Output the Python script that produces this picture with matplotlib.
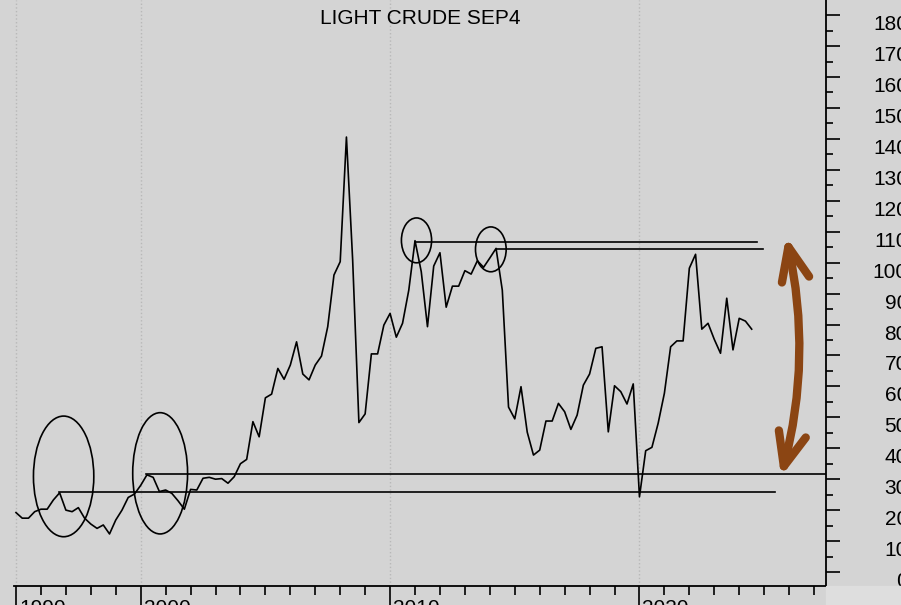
import matplotlib
matplotlib.use("Agg")
import matplotlib.pyplot as plt
import numpy as np
import pandas as pd
from matplotlib.patches import Ellipse, FancyArrowPatch, Rectangle
from matplotlib.transforms import blended_transform_factory, ScaledTranslation

plt.rcParams['font.family'] = ['Liberation Sans', 'DejaVu Sans']

# ---------------- data ----------------
title = "LIGHT CRUDE SEP4"
quarters = pd.period_range("1995Q1", "2024Q3", freq="Q")
prices = [
    19.2, 17.4, 17.4, 19.5,   # 1995
    20.3, 20.3, 23.3, 25.6,   # 1996
    20.0, 19.5, 20.8, 17.4,   # 1997
    15.5, 14.1, 15.2, 12.3,   # 1998
    16.8, 20.0, 24.1, 25.2,   # 1999
    28.0, 31.4, 30.6, 26.0,   # 2000
    26.5, 25.4, 23.0, 20.3,   # 2001
    26.7, 26.5, 30.3, 30.6,   # 2002
    30.0, 30.2, 28.7, 30.8,   # 2003
    35.0, 36.4, 48.6, 43.7,   # 2004
    56.3, 57.5, 65.8, 62.3,   # 2005
    66.9, 74.4, 64.0, 62.1,   # 2006
    66.9, 69.8, 79.3, 96.0,   # 2007
    100.3, 140.6, 100.8, 48.3,  # 2008
    51.1, 70.5, 70.5, 79.8,   # 2009
    83.6, 75.9, 80.4, 91.1,   # 2010
    107.1, 97.1, 79.3, 98.9,  # 2011
    103.2, 85.6, 92.4, 92.4,  # 2012
    97.4, 96.3, 100.6, 98.5,  # 2013
    101.5, 104.6, 91.1, 53.3,  # 2014
    49.5, 59.9, 45.2, 37.8,   # 2015
    39.4, 48.8, 48.8, 54.5,   # 2016
    51.8, 46.1, 50.7, 60.4,   # 2017
    64.0, 72.3, 72.8, 45.3,   # 2018
    60.2, 58.3, 54.3, 60.8,   # 2019
    24.3, 39.2, 40.3, 48.1,   # 2020
    57.8, 72.8, 74.7, 74.7,   # 2021
    98.2, 102.7, 78.5, 80.4,  # 2022
    75.2, 70.7, 88.5, 71.8,   # 2023
    82.0, 81.1, 78.5,         # 2024
]
dates = np.array([q.year + (q.quarter - 1) / 4 for q in quarters])

# horizontal support / resistance lines
level_values = [106.8, 104.4, 31.6, 25.9]
level_starts = [2010.98, 2014.27, 2000.21, 1996.74]
level_ends = [2024.72, 2024.95, 2027.5, 2025.44]

# ellipses (centre year, centre value, width in years, height in value)
ell_x = [1996.91, 2000.78, 2011.06, 2014.04]
ell_y = [30.9, 31.9, 107.2, 104.3]
ell_w = [2.42, 2.20, 1.21, 1.23]
ell_h = [39.0, 39.2, 14.5, 14.5]

y_ticks = list(range(0, 190, 10))
y_labels = [str(v) for v in y_ticks]
x_major = [1995, 2000, 2010, 2020]
x_labels = ["1990", "2000", "2010", "2020"]

# ---------------- figure ----------------
W, H = 901, 605
bg = '#d4d4d4'
FS = 15
fig = plt.figure(figsize=(W / 100, H / 100), dpi=100, facecolor=bg)
left, right, bottom, top = 14, 826, 585.7, 0
ax = fig.add_axes([left / W, (H - bottom) / H, (right - left) / W, (bottom - top) / H])
ax.set_facecolor(bg)
fig.patches.append(Rectangle((right / W, 0), 1 - right / W, (H - bottom) / H,
                             transform=fig.transFigure, color='#dedede', zorder=0))

ax.set_xlim(1994.92, 2027.48)
ax.set_ylim(-4.43, 184.9)

ax.plot(dates, prices, color='black', lw=1.2, zorder=3)

for v, s, e in zip(level_values, level_starts, level_ends):
    ax.plot([s, e], [v, v], color='black', lw=1.2, zorder=3, clip_on=True)

for cx, cy, w, h in zip(ell_x, ell_y, ell_w, ell_h):
    ax.add_patch(Ellipse((cx, cy), w, h, fill=False, edgecolor='black', lw=1.2, zorder=3))

arrow = FancyArrowPatch(posA=(2025.88, 108.5), posB=(2025.68, 30.8),
                        arrowstyle='<->,head_length=1.2,head_width=0.5',
                        connectionstyle='arc3,rad=-0.12', mutation_scale=20,
                        color='#8B4513', lw=6, shrinkA=0, shrinkB=0,
                        capstyle='round', joinstyle='round', zorder=4)
ax.add_patch(arrow)

# spines
for s in ['top', 'left']:
    ax.spines[s].set_visible(False)
for s in ['bottom', 'right']:
    ax.spines[s].set_linewidth(1.3)
    ax.spines[s].set_color('black')

# y axis on the right
ax.yaxis.tick_right()
ax.set_yticks(y_ticks)
ax.set_yticklabels(y_labels, fontsize=FS)
ax.set_yticks(np.arange(5, 185, 10), minor=True)
ax.tick_params(axis='y', which='major', length=10, width=1.2, pad=49, direction='out')
ax.tick_params(axis='y', which='minor', length=5, width=1.2, direction='out')
for lab in ax.get_yticklabels():
    lab.set_horizontalalignment('right')
    lab.set_verticalalignment('top')

# x axis
ax.set_xticks(x_major)
ax.set_xticklabels([])
minor_years = [y for y in range(1996, 2028) if y not in x_major]
ax.set_xticks(minor_years, minor=True)
ax.tick_params(axis='x', which='major', length=16, width=1.2, direction='out')
ax.tick_params(axis='x', which='minor', length=6.5, width=1.2, direction='out')
ax.grid(axis='x', which='major', color='#b8b8b8', linestyle=':', lw=1)

trans = blended_transform_factory(ax.transData, ax.transAxes)
for xv, lab in zip(x_major, x_labels):
    ax.text(xv, 0, lab, transform=trans + ScaledTranslation(3 / 100, -13.5 / 100, fig.dpi_scale_trans),
            ha='left', va='top', fontsize=FS, clip_on=False)

ax.text(0.5, 1, title, transform=ax.transAxes + ScaledTranslation(0, -9 / 100, fig.dpi_scale_trans),
        ha='center', va='top', fontsize=FS)

fig.savefig("out.png", dpi=100, facecolor=bg)
